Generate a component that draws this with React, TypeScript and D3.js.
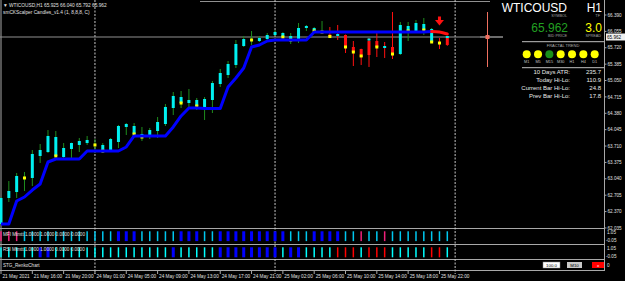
import React from 'react';
import * as d3 from 'd3';

const W = 625;
const H = 281;

// ---- candle data (H1 bars, 21 May 12:00 .. 25 May 23:00) ----
const kinds = [
  'C','C','C','Y','C','C','C','C','C','C','C','C','Y','C','C','C','C','C','C','C',
  'C','C','C','C','C','C','C','C','C','C','C','C','Y','C','C','C','C','C','C','C',
  'C','Y','R','Q','R','R','R','R','R','Q','R','C','C','C','C','C','D','R',
];
const opens = [
  62.116,62.648,62.770,63.060,63.057,63.507,63.588,63.507,63.486,63.650,
  63.732,63.772,63.735,63.609,63.609,63.793,64.100,63.957,63.895,63.895,
  64.018,64.161,64.488,64.590,64.590,64.529,64.509,64.652,64.979,65.163,
  65.368,65.756,65.882,65.858,65.899,65.981,65.940,65.879,65.879,66.124,
  66.063,66.045,65.990,65.961,65.981,65.736,65.695,65.858,65.858,65.715,
  65.736,65.592,66.063,66.063,66.083,65.838,65.820,65.920,
];
const highs = [
  62.668,62.995,63.159,63.180,63.629,63.752,64.038,64.018,63.772,63.780,
  63.875,63.916,63.854,63.772,63.875,64.141,64.181,64.181,64.100,64.080,
  64.304,64.570,64.815,64.836,64.877,64.693,64.713,65.040,65.286,65.449,
  65.879,65.961,66.063,65.961,66.022,66.083,66.040,66.022,66.226,66.186,
  66.145,66.267,66.145,66.186,65.990,65.858,65.700,65.920,66.022,65.838,
  66.451,66.247,66.247,66.288,66.329,66.124,65.920,65.961,
];
const lows = [
  62.096,62.566,62.648,62.791,62.893,63.364,63.568,63.425,63.445,63.425,
  63.588,63.732,63.568,63.568,63.588,63.670,63.936,63.916,63.813,63.854,
  63.875,64.120,64.345,64.488,64.509,64.447,64.243,64.386,64.918,65.102,
  65.306,65.736,65.777,65.838,65.879,65.961,65.930,65.797,65.817,66.063,
  66.042,66.022,65.920,65.879,65.613,65.347,65.368,65.327,65.531,65.511,
  65.490,65.572,65.858,66.042,65.981,65.817,65.695,65.760,
];
const closes = [
  62.648,62.791,63.098,63.057,63.548,63.629,63.916,63.895,63.670,63.772,
  63.813,63.834,63.732,63.732,63.854,64.120,64.161,64.120,63.957,64.038,
  64.202,64.509,64.734,64.713,64.652,64.652,64.672,64.999,65.204,65.388,
  65.797,65.899,65.879,65.920,65.981,66.042,66.022,65.961,66.124,66.165,
  66.124,66.042,65.950,66.001,65.736,65.633,65.531,65.572,65.736,65.756,
  65.572,66.186,66.165,66.226,66.206,66.104,65.817,65.777,
];
const yellowMarks: (number | null)[] = [
  null,null,null,63.057,null,null,null,63.507,null,null,
  null,null,63.732,63.609,null,null,null,63.957,63.895,null,
  null,null,null,64.590,null,64.529,null,null,null,null,
  null,null,65.879,null,null,null,65.940,65.879,null,null,
  66.063,66.042,65.950,null,65.736,65.633,65.552,null,65.736,null,
  65.592,null,66.063,null,66.083,65.838,65.817,null,
];
const cyanMarks: (number | null)[] = [
  null,null,null,null,null,null,null,null,null,null,
  null,null,null,null,null,null,null,null,null,null,
  null,null,null,null,null,null,null,null,null,null,
  null,null,null,null,null,null,null,null,null,null,
  null,null,null,null,null,null,null,65.889,null,null,
  null,null,null,null,null,null,null,65.940,
];
const trendLine = [
  62.116,62.116,62.586,62.668,62.811,62.934,63.384,63.445,63.445,63.445,
  63.445,63.609,63.609,63.609,63.609,63.609,63.691,63.916,63.916,63.916,
  63.916,63.916,64.100,64.325,64.488,64.488,64.478,64.478,64.478,64.918,
  65.102,65.306,65.736,65.777,65.858,65.879,65.879,65.879,65.879,65.879,
  66.042,66.042,66.042,66.042,66.042,66.042,66.042,66.042,66.042,66.042,
  66.042,66.042,66.042,66.042,66.042,66.052,66.042,66.001,
];
const mfiStates = [
  'p','p','p','c','c','c','c','c','c','c','c','c','c','c','c','b','b','b','c','c',
  'c','c','c','b','b','b','c','c','b','b','b','b','b','b','b','b','b','c','c','c',
  'b','b','b','b','c','c','p','c','c','p','c','c','c','c','c','c','c','c',
];
const rsiStates = [
  'c','c','c','c','c','b','b','c','c','c','c','c','c','c','c','c','c','c','c','c',
  'c','c','b','c','c','c','c','c','b','b','b','b','b','b','b','b','c','b','b','c',
  'c','c','c','r','r','r','c','r','r','r','c','c','c','c','c','r','r','c',
];

const priceLabels = [66.39, 66.055, 65.72, 65.385, 65.05, 64.715, 64.38, 64.045, 63.71, 63.375, 63.04, 62.705, 62.37, 62.035];
const timeLabels = [
  '21 May 2021','21 May 16:00','21 May 20:00','24 May 01:00','24 May 05:00','24 May 09:00','24 May 13:00',
  '24 May 17:00','24 May 21:00','25 May 02:00','25 May 06:00','25 May 10:00','25 May 14:00','25 May 18:00','25 May 22:00',
];
const timeIndex = [0, 4, 8, 12, 16, 20, 24, 28, 32, 36, 40, 44, 48, 52, 56];
const daySeparators = [12, 35, 58];

const bidPrice = 65.962;
const fractalTF = ['M1', 'M5', 'M15', 'M30', 'H1', 'H4', 'D1'];
const fractalState = ['y', 'y', 'g', 'y', 'y', 'y', 'y'];
const statLabels = ['10 Days ATR:', 'Today Hi-Lo:', 'Current Bar Hi-Lo:', 'Prev Bar Hi-Lo:'];
const statValues = ['235.7', '110.9', '24.8', '17.8'];

const CYAN = '#00f0f0';
const GREEN = '#1e8c1e';
const RED = '#ff1010';
const YELLOW = '#ffff00';
const GRID = '#a8a8a8';
const FONT = 'Liberation Sans, Arial, sans-serif';

export default function App() {
  const x = d3.scaleLinear().domain([0, 57]).range([1, 447.3]);
  const y = d3.scaleLinear().domain([66.39, 62.03]).range([15, 228.2]);
  const yMfi = d3.scaleLinear().domain([-0.05, 1.05]).range([241.6, 230.8]);
  const yRsi = d3.scaleLinear().domain([-0.05, 1.05]).range([257.8, 246.8]);

  const blueLine = d3.line<number>().x((_, i) => x(i)).y((d) => y(d));
  const redLine = d3.line<number>().x((_, i) => x(i + 55)).y((d) => y(d)).curve(d3.curveMonotoneX);

  const mfiColor: Record<string, string> = { c: '#00c8f0', b: '#0000ff', p: '#f0207a' };
  const rsiColor: Record<string, string> = { c: '#00ffff', b: '#0000ff', r: '#ff0000' };

  const axisX = 604.5;

  return (
    <svg width={W} height={H} style={{ position: 'fixed', left: 0, top: 0, display: 'block', background: '#000' }} fontFamily={FONT}>
      <rect x={0} y={0} width={W} height={H} fill="#000" />

      {/* frame */}
      <line x1={1} y1={0} x2={1} y2={271} stroke={GRID} strokeWidth={1} />
      <line x1={0} y1={228.5} x2={axisX} y2={228.5} stroke={GRID} />
      <line x1={0} y1={244.5} x2={axisX} y2={244.5} stroke={GRID} />
      <line x1={0} y1={259.5} x2={axisX} y2={259.5} stroke={GRID} />
      <line x1={0} y1={270.5} x2={axisX} y2={270.5} stroke={GRID} />
      <line x1={axisX} y1={0} x2={axisX} y2={271} stroke={GRID} />
      <line x1={200} y1={1.5} x2={490} y2={1.5} stroke="#909090" />

      {/* day separators */}
      {daySeparators.map((d) => (
        <line key={d} x1={x(d)} y1={0} x2={x(d)} y2={274} stroke="#c8c8c8" strokeDasharray="2 1.5" strokeWidth={1} />
      ))}

      {/* bid line */}
      <line x1={0} y1={37} x2={503} y2={37} stroke="#909090" strokeWidth={1} />

      {/* candles */}
      {kinds.map((k, i) => {
        const cx = x(i);
        const wickColor = k === 'R' || k === 'Q' || k === 'D' ? RED : GREEN;
        const bodyColor = k === 'R' ? RED : k === 'Y' || k === 'D' ? YELLOW : CYAN;
        const top = Math.min(y(opens[i]), y(closes[i]));
        const h = Math.max(1.5, Math.abs(y(opens[i]) - y(closes[i])));
        return (
          <g key={i}>
            <rect x={cx - 0.5} y={y(highs[i])} width={1} height={y(lows[i]) - y(highs[i])} fill={wickColor} />
            {k === 'Y' || k === 'D' ? null : <rect x={cx - 1.5} y={top} width={3} height={h} fill={bodyColor} />}
            {cyanMarks[i] != null ? (
              <rect x={cx - 1.5} y={y(cyanMarks[i] as number) - 1} width={3} height={2} fill={CYAN} />
            ) : null}
            {yellowMarks[i] != null ? (
              <rect x={cx - 1.5} y={y(yellowMarks[i] as number) - 1.5} width={3} height={3} fill={YELLOW} />
            ) : null}
          </g>
        );
      })}

      {/* trend line */}
      <path d={blueLine(trendLine.slice(0, 56)) || ''} fill="none" stroke="#0000ff" strokeWidth={3} strokeLinejoin="round" />
      <path d={redLine(trendLine.slice(55)) || ''} fill="none" stroke={RED} strokeWidth={3} strokeLinecap="round" />

      {/* sell arrow */}
      <g transform={`translate(${x(56)},16.5)`} fill={RED}>
        <rect x={-1.5} y={0} width={3} height={5} />
        <path d="M-4.5,3.5 L4.5,3.5 L0,9 Z" />
      </g>

      {/* header */}
      <text x={3} y={7} fontSize={4.8} fill="#e0e0e0">▼ WTICOUSD,H1  65.925 66.040 65.792 65.962</text>
      <text x={3} y={13.5} fontSize={4.8} fill="#e0e0e0">smCKScalper Candles_v1.4 (1, 8,8,8, C)</text>

      {/* price axis */}
      {priceLabels.map((p) => (
        <g key={p}>
          <line x1={axisX} y1={y(p)} x2={axisX + 2} y2={y(p)} stroke={GRID} />
          <text x={607.5} y={y(p) + 1.6} fontSize={4.6} fill="#e0e0e0">{p.toFixed(3)}</text>
        </g>
      ))}
      <rect x={606} y={33.5} width={19} height={7} fill="#f0f0f0" />
      <text x={607} y={38.7} fontSize={4.6} fill="#000">{bidPrice.toFixed(3)}</text>

      {/* sub-panel axis labels */}
      <text x={607} y={233.5} fontSize={4.6} fill="#e0e0e0">1.05</text>
      <text x={606} y={241.5} fontSize={4.6} fill="#e0e0e0">-0.05</text>
      <text x={607} y={250} fontSize={4.6} fill="#e0e0e0">1.05</text>
      <text x={606} y={258} fontSize={4.6} fill="#e0e0e0">-0.05</text>
      <text x={607} y={267} fontSize={4.6} fill="#e0e0e0">0</text>

      {/* MFI panel */}
      {mfiStates.map((s, i) => (
        <rect key={'m' + i} x={s === 'b' ? x(i) - 1.5 : x(i) - 0.75} y={yMfi(1)} width={s === 'b' ? 3 : 1.5} height={yMfi(0) - yMfi(1)} fill={mfiColor[s]} />
      ))}
      <text x={3} y={235.5} fontSize={4.6} fill="#e0e0e0">MFI Mtmtt 1.0000 1.0000 0.0000 0.0000</text>

      {/* RSI panel */}
      {rsiStates.map((s, i) => (
        <rect key={'r' + i} x={s === 'b' ? x(i) - 1.5 : x(i) - 0.75} y={yRsi(1)} width={s === 'b' ? 3 : 1.5} height={yRsi(0) - yRsi(1)} fill={rsiColor[s]} />
      ))}
      <text x={3} y={251} fontSize={4.6} fill="#e0e0e0">RSI Mtmtt 1.0000 1.0000 0.0000 0.0000</text>

      {/* STG panel */}
      <text x={3} y={266.5} fontSize={4.6} fill="#e0e0e0">STG_RenkoChart</text>
      <rect x={543} y={262} width={17} height={6} fill="#fff" stroke="#888" strokeWidth={0.5} />
      <text x={551.5} y={266.6} fontSize={4.4} fill="#000" textAnchor="middle">100.0</text>
      <rect x={567} y={262} width={15} height={6} fill="#c8c8c8" />
      <text x={574.5} y={266.6} fontSize={4.4} fill="#000" textAnchor="middle">M10</text>
      <rect x={592} y={262} width={12} height={6} fill="#ff0000" />
      <text x={598} y={266.6} fontSize={4.4} fill="#fff" textAnchor="middle">x</text>

      {/* time axis */}
      {timeLabels.map((t, i) => (
        <g key={t}>
          <line x1={x(timeIndex[i])} y1={271} x2={x(timeIndex[i])} y2={274} stroke={GRID} />
          <text x={x(timeIndex[i]) + 1.5} y={278} fontSize={4.7} fill="#e0e0e0">{t}</text>
        </g>
      ))}

      {/* crosshair-like marker */}
      <line x1={487.5} y1={12} x2={487.5} y2={67} stroke="#f07060" strokeWidth={1} />
      <line x1={480} y1={37} x2={503} y2={37} stroke="#909090" />
      <rect x={485.5} y={35} width={4} height={4} fill="#f07060" />

      {/* info panel */}
      <text x={567} y={12} fontSize={12} fill="#fff" textAnchor="end">WTICOUSD</text>
      <text x={602} y={12} fontSize={12} fill="#fff" textAnchor="end">H1</text>
      <text x={567} y={16.5} fontSize={3.8} fill="#a0a0a0" textAnchor="end">SYMBOL</text>
      <text x={600} y={16.5} fontSize={3.8} fill="#a0a0a0" textAnchor="end">TF</text>
      <text x={568} y={32} fontSize={12} fill="#22a022" textAnchor="end">{bidPrice.toFixed(3)}</text>
      <text x={602} y={32} fontSize={12} fill={YELLOW} textAnchor="end">3.0</text>
      <text x={567} y={37} fontSize={3.8} fill="#a0a0a0" textAnchor="end">BID PRICE</text>
      <text x={601} y={37} fontSize={3.8} fill="#a0a0a0" textAnchor="end">SPREAD</text>
      <line x1={522} y1={41.7} x2={604} y2={41.7} stroke="#c0c0c0" />
      <text x={563} y={46.5} fontSize={4} fill="#b0b0b0" textAnchor="middle">FRACTAL TREND</text>
      {fractalTF.map((tf, i) => (
        <g key={tf}>
          <circle cx={526.7 + i * 11.33} cy={54.3} r={4} fill={fractalState[i] === 'g' ? '#1a8f1a' : YELLOW} />
          <text x={526.7 + i * 11.33} y={63} fontSize={3.8} fill="#c0c0c0" textAnchor="middle">{tf}</text>
        </g>
      ))}
      <line x1={522} y1={67.7} x2={604} y2={67.7} stroke="#c0c0c0" />
      {statLabels.map((s, i) => (
        <g key={s}>
          <text x={570} y={73.8 + i * 8.1} fontSize={6} fill="#e8e8e8" textAnchor="end">{s}</text>
          <text x={601} y={73.8 + i * 8.1} fontSize={6} fill="#e8e8e8" textAnchor="end">{statValues[i]}</text>
        </g>
      ))}
    </svg>
  );
}
